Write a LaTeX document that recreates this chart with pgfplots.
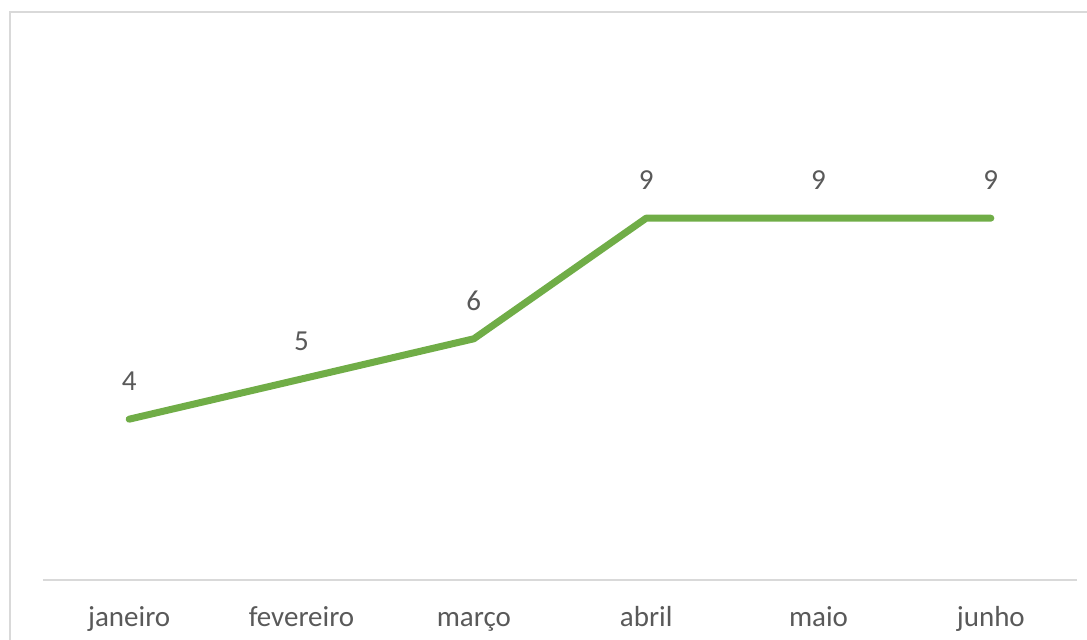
\documentclass[border=0pt]{standalone}
\usepackage{pgfplots}
\pgfplotsset{compat=1.18}
\usepackage{fontspec}
\setmainfont{Carlito}
\definecolor{linegreen}{HTML}{70AD47}
\definecolor{txtgray}{HTML}{595959}
\definecolor{bordergray}{HTML}{D9D9D9}
\begin{document}
\fontsize{14}{16}\selectfont
\begin{tikzpicture}
\path[use as bounding box] (0,0) rectangle (543.5pt,320pt);
\clip (0,0) rectangle (543.5pt,320pt);
\draw[bordergray, line width=1pt] (5pt,-20pt) rectangle (580pt,314pt);
\begin{axis}[
  at={(21.5pt,30pt)}, anchor=south west,
  scale only axis, width=517pt, height=201pt,
  xmin=-0.5, xmax=5.5, ymin=0, ymax=10,
  axis y line=none,
  axis x line*=bottom,
  x axis line style={bordergray, line width=0.8pt, -},
  xtick=data,
  xticklabels={janeiro,fevereiro,março,abril,maio,junho},
  xtick style={draw=none},
  ticklabel style={font=\fontsize{14.5}{16}\selectfont, text=txtgray},
  xticklabel style={yshift=-8pt, text height=10.5pt, text depth=3pt},
  /pgf/number format/assume math mode=true,
  nodes near coords,
  nodes near coords style={font=\fontsize{14.5}{16}\selectfont, text=txtgray, anchor=south, inner sep=0pt, yshift=12.5pt},
  clip=false,
]
\addplot[linegreen, line width=3.5pt, line cap=round, line join=round] coordinates {
(0,4) (1,5) (2,6) (3,9) (4,9) (5,9)
};
\end{axis}
\end{tikzpicture}
\end{document}
